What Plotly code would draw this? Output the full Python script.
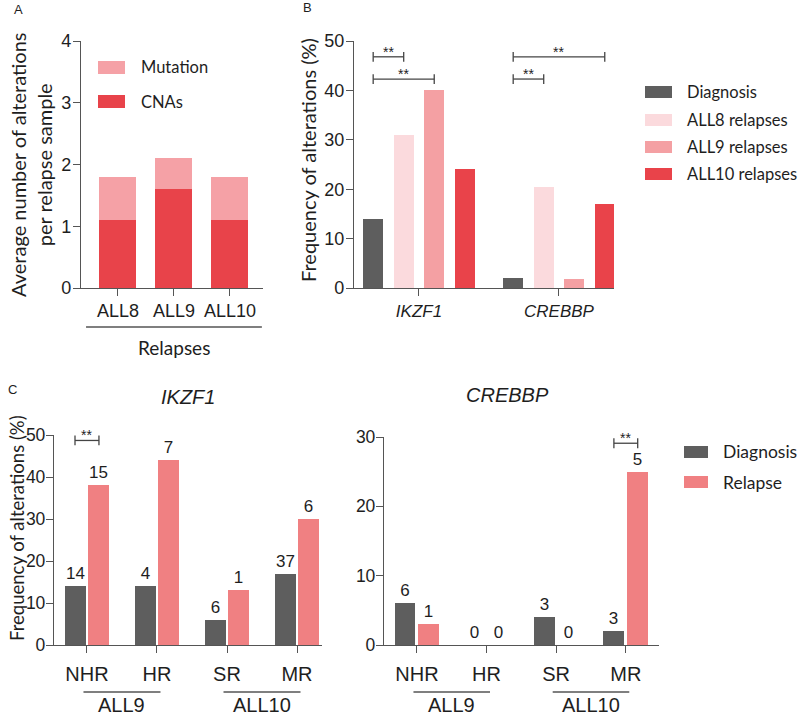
import plotly.graph_objects as go

W, H = 800, 716

# ---- panel A: average alterations per relapse sample ----
a_groups = ["ALL8", "ALL9", "ALL10"]
a_cnas = [1.1, 1.6, 1.1]
a_mutations = [0.7, 0.5, 0.7]  # stacked on top of CNAs

# ---- panel B: frequency of alterations per protocol ----
b_genes = ["IKZF1", "CREBBP"]
b_names = ["Diagnosis", "ALL8 relapses", "ALL9 relapses", "ALL10 relapses"]
b_diagnosis = [14, 2]
b_all8 = [31, 20.5]
b_all9 = [40, 1.8]
b_all10 = [24, 17]
# (gene index, bar from, bar to, level)
b_sig = [(0, 0, 1, 46.8), (0, 0, 2, 42.3), (1, 0, 3, 46.8), (1, 0, 1, 42.3)]

# ---- panel C: by risk group ----
c_risk = ["NHR", "HR", "SR", "MR"]
c_protocols = [("ALL9", 0, 1), ("ALL10", 2, 3)]
ikzf1_diag = [14, 14, 6, 17]
ikzf1_rel = [38, 44, 13, 30]
ikzf1_diag_n = [14, 4, 6, 37]
ikzf1_rel_n = [15, 7, 1, 6]
crebbp_diag = [6, 0, 4, 2]
crebbp_rel = [3, 0, 0, 25]
crebbp_diag_n = [6, 0, 3, 3]
crebbp_rel_n = [1, 0, 0, 5]
ikzf1_sig = (0, 48.7)
crebbp_sig = (3, 29.1)

GREY = "#5e5e5e"
B_COLORS = [GREY, "#fbdadd", "#f4a0a3", "#e9434a"]
A_COLORS = {"Mutation": "#f5a1a6", "CNAs": "#e8434a"}
REL = "#f08082"
LINE = "#555555"
TXT = "#1e1e1e"
SANS = "Liberation Sans, Arial, sans-serif"
CAL = "Lato, sans-serif"


def px(x):
    return x / W


def py(y):
    return 1 - y / H


def ax(size=18, **kw):
    d = dict(showline=True, linecolor=LINE, linewidth=1.3, ticks="outside",
             ticklen=7, tickcolor=LINE, tickwidth=1.3, showgrid=False, automargin=False,
             zeroline=False, tickfont=dict(family=SANS, size=size, color=TXT))
    d.update(kw)
    return d


fig = go.Figure()

# A: stacked bars
fig.add_trace(go.Bar(x=list(range(3)), y=a_cnas, width=0.66, marker_color=A_COLORS["CNAs"],
                     marker_line_width=0, xaxis="x", yaxis="y"))
fig.add_trace(go.Bar(x=list(range(3)), y=a_mutations, base=a_cnas, width=0.66,
                     marker_color=A_COLORS["Mutation"], marker_line_width=0, xaxis="x", yaxis="y"))

# B: four bars per gene
b_width = 0.143
b_step = 0.218
for k, vals in enumerate([b_diagnosis, b_all8, b_all9, b_all10]):
    c = (k - 1.5) * b_step
    fig.add_trace(go.Bar(x=list(range(2)), y=vals, width=b_width, offset=c - b_width / 2,
                         marker_color=B_COLORS[k], marker_line_width=0, xaxis="x2", yaxis="y2"))

sig_anns = []


def bracket(x0, x1, level, xa, ya):
    fig.add_trace(go.Scatter(x=[x0, x1], y=[level, level], mode="lines+markers",
                             line=dict(color="#444", width=1.3),
                             marker=dict(symbol="line-ns", size=7, line=dict(color="#444", width=1.3)),
                             xaxis=xa, yaxis=ya, cliponaxis=False, hoverinfo="skip"))
    sig_anns.append(dict(x=(x0 + x1) / 2, y=level, xref=xa, yref=ya, text="**", showarrow=False,
                         xanchor="center", yanchor="bottom", yshift=-5,
                         font=dict(family=SANS, size=14, color=TXT)))


for g, i, j, lv in b_sig:
    bracket(g + (i - 1.5) * b_step, g + (j - 1.5) * b_step, lv, "x2", "y2")

# C: diagnosis vs relapse
c_width = 0.3
c_half = 0.171
for xa, ya, dv, rv, dn, rn, sig in [("x3", "y3", ikzf1_diag, ikzf1_rel, ikzf1_diag_n, ikzf1_rel_n, ikzf1_sig),
                                     ("x4", "y4", crebbp_diag, crebbp_rel, crebbp_diag_n, crebbp_rel_n, crebbp_sig)]:
    for vals, ns, col, c in [(dv, dn, GREY, -c_half), (rv, rn, REL, c_half)]:
        fig.add_trace(go.Bar(x=list(range(4)), y=vals, width=c_width, offset=c - c_width / 2,
                             marker_color=col, marker_line_width=0, text=[str(n) for n in ns],
                             textposition="outside", constraintext="none", cliponaxis=False,
                             textfont=dict(family=SANS, size=17, color=TXT), xaxis=xa, yaxis=ya))
    bracket(sig[0] - c_half, sig[0] + c_half, sig[1], xa, ya)

shapes = []
anns = list(sig_anns)


def note(x, y, text, font, xref="paper", **kw):
    d = dict(x=x, y=y, xref=xref, yref="paper", text=text, showarrow=False,
             xanchor="center", yanchor="middle", font=font)
    d.update(kw)
    anns.append(d)


# legends drawn as swatches + labels
def legend(names, colors, x0, x1, ys, tx, size, h=12):
    for n, col, yc in zip(names, colors, ys):
        shapes.append(dict(type="rect", xref="paper", yref="paper", x0=px(x0), x1=px(x1),
                           y0=py(yc + h / 2), y1=py(yc - h / 2), fillcolor=col, line_width=0))
        note(px(tx), py(yc), n, dict(family=CAL, size=size, color=TXT), xanchor="left")


legend(["Mutation", "CNAs"], [A_COLORS["Mutation"], A_COLORS["CNAs"]], 98, 125, [67.5, 101.5], 139, 16.5, 13)
legend(b_names, B_COLORS, 645, 672, [92, 120, 147, 174], 685, 16.5)
legend(["Diagnosis", "Relapse"], [GREY, REL], 684, 708, [452, 482], 721, 17.5)

# group underlines
shapes.append(dict(type="line", xref="x", yref="paper", x0=-0.57, x1=2.57, y0=py(327), y1=py(327),
                   line=dict(color=LINE, width=1.3)))
note(1, py(347), "Relapses", dict(family=CAL, size=19, color=TXT), xref="x")
for xa in ["x3", "x4"]:
    for name, i, j in c_protocols:
        mid = (i + j) / 2
        shapes.append(dict(type="line", xref=xa, yref="paper", x0=mid - 0.55, x1=mid + 0.55,
                           y0=py(692), y1=py(692), line=dict(color=LINE, width=1.3)))
        note(mid, py(705), name, dict(family=SANS, size=20, color=TXT), xref=xa)

# axis titles
note(px(31), py(165), "Average number of alterations<br>per relapse sample",
     dict(family=CAL, size=20, color=TXT), textangle=-90)
note(px(308), py(160), "Frequency of alterations (%)", dict(family=CAL, size=20, color=TXT), textangle=-90)
note(px(17), py(528), "Frequency of alterations (%)", dict(family=CAL, size=18.5, color=TXT), textangle=-90)

# gene titles for C
note(px(188), py(397), "IKZF1", dict(family=SANS, size=20, color=TXT, style="italic"))
note(px(507), py(395), "CREBBP", dict(family=SANS, size=20, color=TXT, style="italic"))

# panel letters
for letter, x, y in [("A", 18, 9), ("B", 307, 8), ("C", 12, 390)]:
    note(px(x), py(y), letter, dict(family=SANS, size=13, color=TXT))

fig.update_layout(
    width=W, height=H, margin=dict(l=0, r=0, t=0, b=0),
    plot_bgcolor="white", paper_bgcolor="white", showlegend=False,
    barmode="overlay", bargap=0,
    xaxis=ax(18, domain=[px(81), px(263)], range=[-0.66, 2.59], tickvals=list(range(3)),
             ticktext=a_groups, anchor="y", ticklabelstandoff=-1),
    yaxis=ax(18, domain=[py(288), py(41)], range=[0, 4], dtick=1, anchor="x", ticklabelstandoff=-2),
    xaxis2=ax(16, domain=[px(354), px(614)], range=[-0.464, 1.393], tickvals=list(range(2)),
              ticktext=b_genes, anchor="y2", ticklabelstandoff=0,
              tickfont=dict(family=SANS, size=17, color=TXT, style="italic")),
    yaxis2=ax(18, domain=[py(288), py(41)], range=[0, 50], dtick=10, anchor="x2", ticklabelstandoff=-2),
    xaxis3=ax(20, domain=[px(54), px(322)], range=[-0.471, 3.357], tickvals=list(range(4)),
              ticktext=c_risk, anchor="y3", ticklabelstandoff=4),
    yaxis3=ax(17.5, domain=[py(645), py(435)], range=[0, 50], dtick=10, anchor="x3", ticklabelstandoff=-3),
    xaxis4=ax(20, domain=[px(384), px(659)], range=[-0.473, 3.477], tickvals=list(range(4)),
              ticktext=c_risk, anchor="y4", ticklabelstandoff=4),
    yaxis4=ax(17.5, domain=[py(645), py(437)], range=[0, 30], dtick=10, anchor="x4", ticklabelstandoff=-3),
    shapes=shapes, annotations=anns,
)

# the figure is exactly the window size, so drop the page's default body margin
fig.write_html("out.html", config={"displayModeBar": False},
               post_script="document.body.style.margin='0';document.body.style.overflow='hidden';")
